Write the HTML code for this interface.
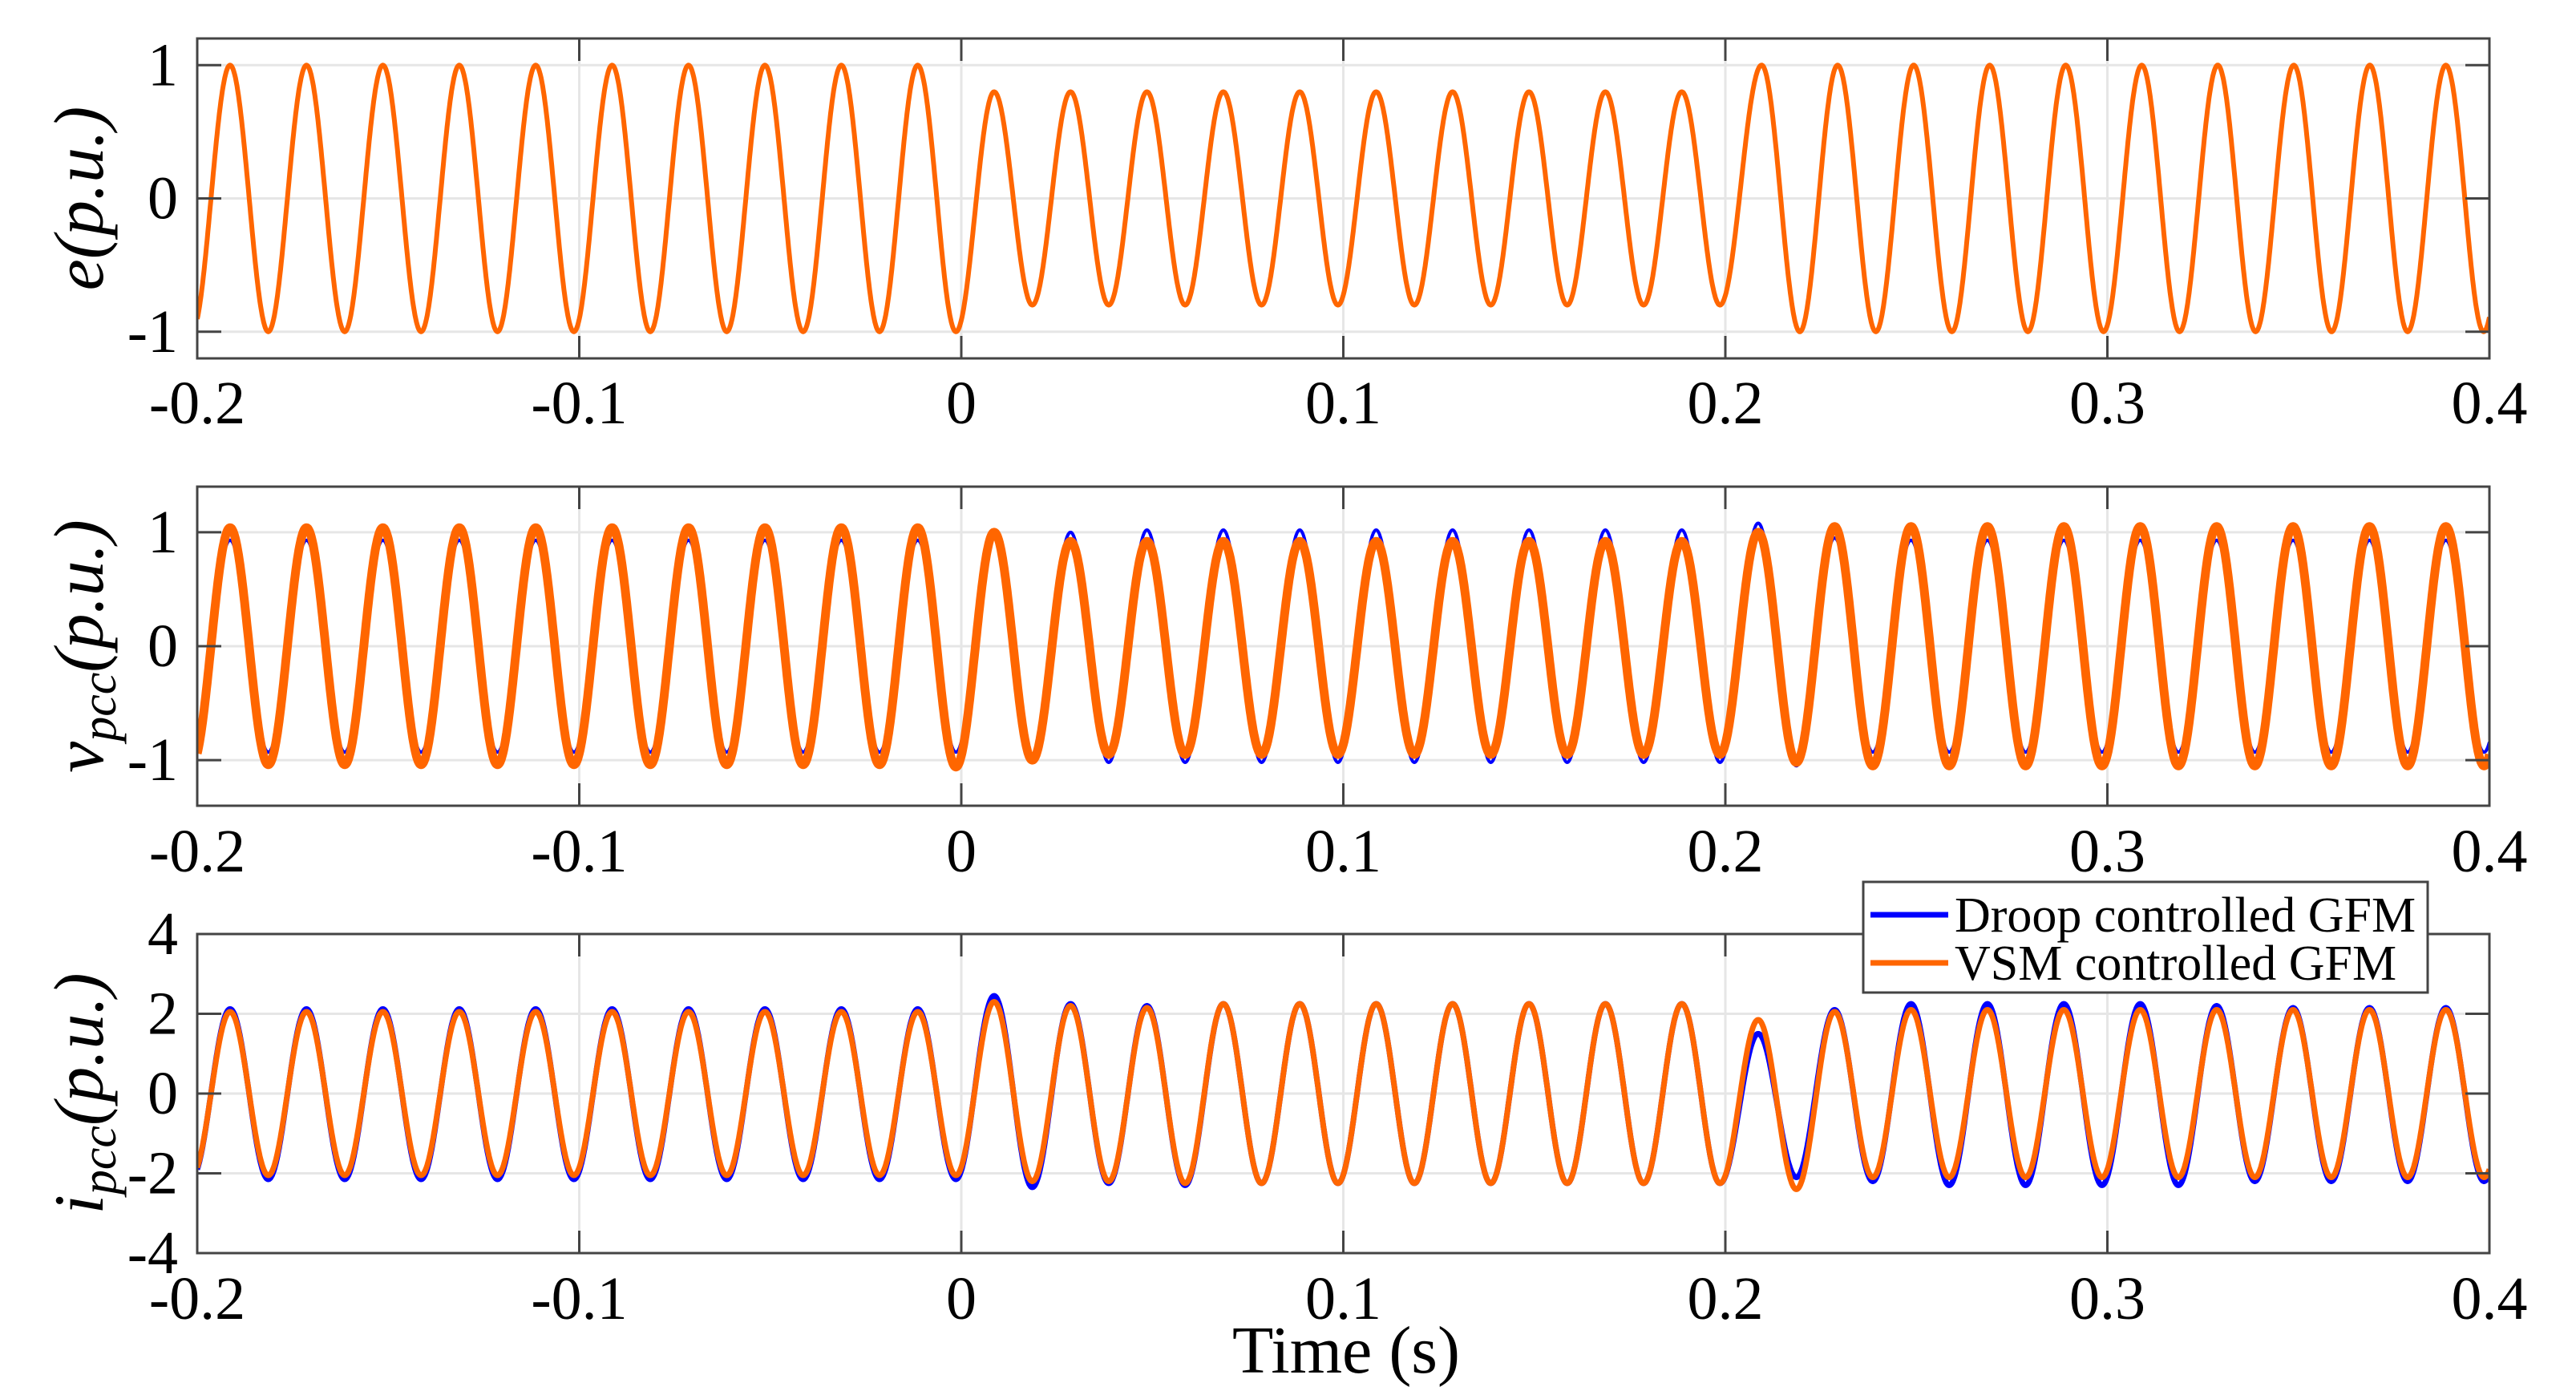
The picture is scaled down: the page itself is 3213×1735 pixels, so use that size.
<!DOCTYPE html>
<html><head><meta charset="utf-8"><style>
html,body{margin:0;padding:0;background:#fff;}
svg{display:block;}
text{font-family:"Liberation Serif",serif;fill:#000;}
</style></head><body>
<svg id="chart" width="3213" height="1735" viewBox="0 0 3213 1735" xmlns="http://www.w3.org/2000/svg"></svg>
<script>
// ---- data: extremum times (s) and extremum values per series ----
const tExtBase = [-0.2014,-0.1914,-0.1814,-0.1714,-0.1614,-0.1514,-0.1414,-0.1314,-0.1214,-0.1114,-0.1014,-0.0914,-0.0814,-0.0714,-0.0614,-0.0514,-0.0414,-0.0314,-0.0214,-0.0114,-0.0014,0.0086,0.0186,0.0286,0.0386,0.0486,0.0586,0.0686,0.0786,0.0886,0.0986,0.1086,0.1186,0.1286,0.1386,0.1486,0.1586,0.1686,0.1786,0.1886,0.1986,0.2086,0.2186,0.2286,0.2386,0.2486,0.2586,0.2686,0.2786,0.2886,0.2986,0.3086,0.3186,0.3286,0.3386,0.3486,0.3586,0.3686,0.3786,0.3886,0.3986,0.4086];
const tExtE = [-0.2014,-0.1914,-0.1814,-0.1714,-0.1614,-0.1514,-0.1414,-0.1314,-0.1214,-0.1114,-0.1014,-0.0914,-0.0814,-0.0714,-0.0614,-0.0514,-0.0414,-0.0314,-0.0214,-0.0114,-0.0014,0.0086,0.0186,0.0286,0.0386,0.0486,0.0586,0.0686,0.0786,0.0886,0.0986,0.1086,0.1186,0.1286,0.1386,0.1486,0.1586,0.1686,0.1786,0.1886,0.1986,0.2095,0.2195,0.2294,0.2394,0.2493,0.2593,0.2692,0.2792,0.2891,0.2990,0.3090,0.3189,0.3289,0.3388,0.3488,0.3587,0.3687,0.3786,0.3886,0.3985,0.4085];
const eVals = [-1,1,-1,1,-1,1,-1,1,-1,1,-1,1,-1,1,-1,1,-1,1,-1,1,-1,0.8,-0.8,0.8,-0.8,0.8,-0.8,0.8,-0.8,0.8,-0.8,0.8,-0.8,0.8,-0.8,0.8,-0.8,0.8,-0.8,0.8,-0.8,1,-1,1,-1,1,-1,1,-1,1,-1,1,-1,1,-1,1,-1,1,-1,1,-1,1];
const vDroop = [-0.93,0.93,-0.93,0.93,-0.93,0.93,-0.93,0.93,-0.93,0.93,-0.93,0.93,-0.93,0.93,-0.93,0.93,-0.93,0.93,-0.93,0.93,-0.93,0.97,-0.97,1.0,-1.02,1.02,-1.02,1.02,-1.02,1.02,-1.02,1.02,-1.02,1.02,-1.02,1.02,-1.02,1.02,-1.02,1.02,-1.02,1.08,-1.05,0.95,-0.93,0.93,-0.93,0.93,-0.93,0.93,-0.93,0.93,-0.93,0.93,-0.93,0.93,-0.93,0.93,-0.93,0.93,-0.93,0.93];
const vVsm = [-1.04,1.04,-1.04,1.04,-1.04,1.04,-1.04,1.04,-1.04,1.04,-1.04,1.04,-1.04,1.04,-1.04,1.04,-1.04,1.04,-1.04,1.04,-1.06,1.0,-1.0,0.92,-0.95,0.92,-0.95,0.92,-0.95,0.92,-0.95,0.92,-0.95,0.92,-0.95,0.92,-0.95,0.92,-0.95,0.92,-0.95,1.0,-1.02,1.05,-1.05,1.05,-1.05,1.05,-1.05,1.05,-1.05,1.05,-1.05,1.05,-1.05,1.05,-1.05,1.05,-1.05,1.05,-1.05,1.05];
const iDroop = [-2.1,2.12,-2.15,2.12,-2.15,2.12,-2.15,2.12,-2.15,2.12,-2.15,2.12,-2.15,2.12,-2.15,2.12,-2.15,2.12,-2.15,2.12,-2.15,2.45,-2.35,2.25,-2.25,2.2,-2.3,2.25,-2.25,2.25,-2.25,2.25,-2.25,2.25,-2.25,2.25,-2.25,2.25,-2.25,2.25,-2.25,1.5,-2.1,2.1,-2.2,2.25,-2.3,2.25,-2.3,2.25,-2.3,2.25,-2.3,2.2,-2.2,2.15,-2.2,2.15,-2.2,2.15,-2.2,2.15];
const iVsm = [-2.05,2.05,-2.05,2.05,-2.05,2.05,-2.05,2.05,-2.05,2.05,-2.05,2.05,-2.05,2.05,-2.05,2.05,-2.05,2.05,-2.05,2.05,-2.05,2.3,-2.2,2.2,-2.2,2.15,-2.25,2.25,-2.25,2.25,-2.25,2.25,-2.25,2.25,-2.25,2.25,-2.25,2.25,-2.25,2.25,-2.25,1.85,-2.4,2.05,-2.1,2.1,-2.1,2.1,-2.1,2.1,-2.1,2.1,-2.1,2.1,-2.1,2.1,-2.1,2.1,-2.1,2.1,-2.1,2.1];
const xTicks = [-0.2,-0.1,0,0.1,0.2,0.3,0.4];
const xTickLabels = ["-0.2","-0.1","0","0.1","0.2","0.3","0.4"];
const yTicks1 = [-1,0,1];
const yTicks2 = [-1,0,1];
const yTicks3 = [-4,-2,0,2,4];

const NS = "http://www.w3.org/2000/svg";
const svg = document.getElementById('chart');
function mk(tag, attrs, parent){const el=document.createElementNS(NS,tag);for(const k in attrs)el.setAttribute(k,attrs[k]);(parent||svg).appendChild(el);return el;}

const X0=246, X1=3105, T0=-0.2, T1=0.4;
const xs = t => X0 + (t-T0)/(T1-T0)*(X1-X0);

const panels = [
  {name:'e-panel', top:48, bot:447, ymin:-1.2, ymax:1.2, ticks:yTicks1, labY:528, ylab:'e', lineW:[6]},
  {name:'vpcc-panel', top:607, bot:1005, ymin:-1.4, ymax:1.4, ticks:yTicks2, labY:1087, ylab:'v', lineW:[4,11]},
  {name:'ipcc-panel', top:1165, bot:1563, ymin:-4, ymax:4, ticks:yTicks3, labY:1645, ylab:'i', lineW:[7,7]}
];

function interp(times, vals, t){
  let j=0; while(j<times.length-2 && times[j+1]<t) j++;
  const ta=times[j], tb=times[j+1];
  let u=(t-ta)/(tb-ta); u=Math.max(0,Math.min(1,u));
  const w=(1-Math.cos(Math.PI*u))/2;
  return vals[j]+(vals[j+1]-vals[j])*w;
}

panels.forEach((p,pi)=>{
  const ys = v => p.bot - (v-p.ymin)/(p.ymax-p.ymin)*(p.bot-p.top);
  const g = mk('g',{});
  
  
  const cid='clip'+pi;
  const cp=mk('clipPath',{id:cid},g); mk('rect',{x:X0,y:p.top,width:X1-X0,height:p.bot-p.top},cp);
  xTicks.forEach(t=>{const l=mk('line',{x1:xs(t),x2:xs(t),y1:p.top,y2:p.bot,stroke:'#e6e6e6','stroke-width':3},g);
    });
  p.ticks.forEach(v=>{const l=mk('line',{x1:X0,x2:X1,y1:ys(v),y2:ys(v),stroke:'#e6e6e6','stroke-width':3},g);
    });
  const series = pi===0 ? [{t:tExtE,v:eVals,c:'#ff6600',w:p.lineW[0],n:'e-line'}]
    : pi===1 ? [{t:tExtBase,v:vDroop,c:'#0000ff',w:p.lineW[0],n:'vpcc-droop-line'},{t:tExtBase,v:vVsm,c:'#ff6600',w:p.lineW[1],n:'vpcc-vsm-line'}]
    : [{t:tExtBase,v:iDroop,c:'#0000ff',w:p.lineW[0],n:'ipcc-droop-line'},{t:tExtBase,v:iVsm,c:'#ff6600',w:p.lineW[1],n:'ipcc-vsm-line'}];
  series.forEach(s=>{
    let d='';
    for(let k=0;k<=3000;k++){const t=T0+(T1-T0)*k/3000;const v=interp(s.t,s.v,t);
      d+=(k?'L':'M')+xs(t).toFixed(1)+' '+ys(v).toFixed(1);}
    const path=mk('path',{d:d,fill:'none',stroke:s.c,'stroke-width':s.w,'stroke-linejoin':'round','clip-path':'url(#'+cid+')'},g);
    
    
  });
  xTicks.forEach(t=>{
    mk('line',{x1:xs(t),x2:xs(t),y1:p.bot,y2:p.bot-28,stroke:'#444','stroke-width':3},g);
    mk('line',{x1:xs(t),x2:xs(t),y1:p.top,y2:p.top+28,stroke:'#444','stroke-width':3},g);
  });
  p.ticks.forEach(v=>{
    mk('line',{x1:X0,x2:X0+30,y1:ys(v),y2:ys(v),stroke:'#444','stroke-width':3},g);
    mk('line',{x1:X1,x2:X1-30,y1:ys(v),y2:ys(v),stroke:'#444','stroke-width':3},g);
    const tl=mk('text',{x:222,y:ys(v)+25,'text-anchor':'end','font-size':76},g);
    tl.textContent=String(v);
    
    
  });
  xTicks.forEach((t,i)=>{
    const tl=mk('text',{x:xs(t),y:p.labY,'text-anchor':'middle','font-size':76},g);
    tl.textContent=xTickLabels[i];
    
    
  });
  const box=mk('rect',{x:X0,y:p.top,width:X1-X0,height:p.bot-p.top,fill:'none',stroke:'#444','stroke-width':3},g);
  
  
  const cy=(p.top+p.bot)/2;
  const yl=mk('text',{x:0,y:0,'text-anchor':'middle','font-size':88,'font-style':'italic',transform:'translate(128,'+cy+') rotate(-90)'},g);
  
  
  if(pi===0){ yl.textContent='e(p.u.)'; }
  else {
    const t1=mk('tspan',{},yl); t1.textContent=p.ylab;
    const t2=mk('tspan',{'font-size':62,dy:16},yl); t2.textContent='pcc';
    const t3=mk('tspan',{dy:-16},yl); t3.textContent='(p.u.)';
  }
});

const xt=mk('text',{x:1679,y:1712,'text-anchor':'middle','font-size':84});
xt.textContent='Time (s)';



const lg=mk('g',{});


mk('rect',{x:2324,y:1100,width:704,height:138,fill:'#fff',stroke:'#444','stroke-width':3},lg);
const entries=[['Droop controlled GFM','#0000ff',1141],['VSM controlled GFM','#ff6600',1201]];
entries.forEach(e=>{
  const eg=mk('g',{},lg);
  
  
  mk('line',{x1:2333,x2:2430,y1:e[2],y2:e[2],stroke:e[1],'stroke-width':7},eg);
  const tx=mk('text',{x:2438,y:e[2]+21,'font-size':62},eg);
  tx.textContent=e[0];
});
</script>
</body></html>
